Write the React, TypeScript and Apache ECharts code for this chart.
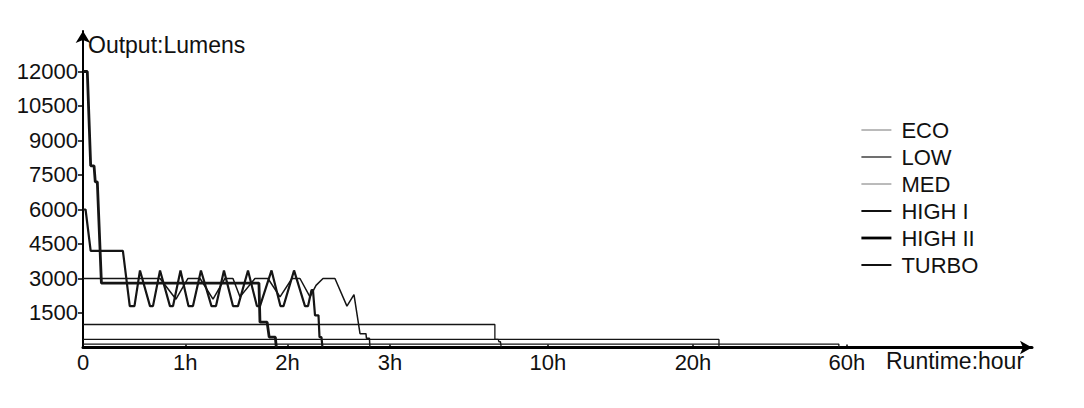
import React, { useEffect, useRef } from "react";
import * as echarts from "echarts";

// Hour breakpoints on the broken runtime axis and their positions on the drawn axis
const HOUR_BREAKS = [0, 1, 2, 3, 10, 20, 60];
const UNIT_BREAKS = [0, 1, 2, 3, 4.545, 5.963, 7.468];
const X_TICK_LABELS = ["0", "1h", "2h", "3h", "10h", "20h", "60h"];
const Y_TICKS = [1500, 3000, 4500, 6000, 7500, 9000, 10500, 12000];

const MODES = ["ECO", "LOW", "MED", "HIGH I", "HIGH II", "TURBO"];

// [hours, lumens]
const ECO: [number, number][] = [[0, 150], [57.9, 150], [57.9, 0]];
const LOW: [number, number][] = [[0, 350], [26.75, 350], [26.75, 0]];
const MED: [number, number][] = [
  [0, 1000], [7.65, 1000], [7.65, 350], [7.8, 350], [7.83, 250], [7.9, 250], [7.93, 0],
];
const HIGH_I: [number, number][] = [
  [0, 3000], [0.753, 3000], [0.909, 2100], [1.026, 3000], [1.144, 3000], [1.271, 2100],
  [1.388, 3000], [1.466, 3000], [1.535, 2200], [1.681, 3000], [1.808, 3000], [1.926, 2200],
  [2.043, 3000], [2.121, 3000], [2.219, 2200], [2.278, 2700], [2.346, 3000], [2.463, 3000],
  [2.58, 1800], [2.649, 2300], [2.708, 600], [2.766, 600], [2.771, 400], [2.8, 400], [2.805, 0],
];
const HIGH_II: [number, number][] = [
  [0, 6000], [0.025, 6000], [0.075, 4200], [0.39, 4200], [0.457, 1800], [0.503, 1800],
  [0.557, 3350], [0.655, 1800], [0.684, 1800], [0.753, 3350], [0.85, 1800], [0.88, 1800],
  [0.953, 3350], [1.031, 1800], [1.075, 1800], [1.153, 3350], [1.256, 1800], [1.3, 1800],
  [1.378, 3350], [1.466, 1800], [1.515, 1800], [1.613, 3350], [1.7, 1800], [1.73, 1800],
  [1.843, 3350], [1.93, 1800], [1.96, 1800], [2.063, 3350], [2.17, 1800], [2.2, 1800],
  [2.234, 2500], [2.248, 2500], [2.268, 1400], [2.302, 1400], [2.312, 450], [2.331, 450],
  [2.341, 0],
];
const TURBO: [number, number][] = [
  [0, 12000], [0.042, 12000], [0.075, 7900], [0.108, 7900], [0.12, 7200], [0.14, 7200],
  [0.18, 2800], [1.72, 2800], [1.73, 1100], [1.8, 1100], [1.82, 450], [1.88, 450], [1.89, 0],
];

const FONT = "'Liberation Sans', Arial, Helvetica, sans-serif";

function toUnit(h: number): number {
  for (let i = 1; i < HOUR_BREAKS.length; i++) {
    if (h <= HOUR_BREAKS[i]) {
      const h0 = HOUR_BREAKS[i - 1], h1 = HOUR_BREAKS[i];
      const u0 = UNIT_BREAKS[i - 1], u1 = UNIT_BREAKS[i];
      return u0 + ((h - h0) / (h1 - h0)) * (u1 - u0);
    }
  }
  return UNIT_BREAKS[UNIT_BREAKS.length - 1];
}

export default function App() {
  const ref = useRef<HTMLDivElement>(null);
  useEffect(() => {
    if (!ref.current) return;
    const chart = echarts.init(ref.current, undefined, { renderer: "svg" });
    const seriesData = [ECO, LOW, MED, HIGH_I, HIGH_II, TURBO];
    const seriesWidths = [1.3, 1.3, 1.3, 1.5, 2.2, 2.8];
    const legendStyles = [
      { color: "#777", width: 1 },
      { color: "#222", width: 1.3 },
      { color: "#777", width: 1 },
      { color: "#111", width: 2 },
      { color: "#000", width: 2.8 },
      { color: "#111", width: 2 },
    ];
    chart.setOption({
      animation: false,
      backgroundColor: "#fff",
      grid: { left: 83, right: 52, top: 31, bottom: 60.5 },
      legend: {
        orient: "vertical",
        left: 855,
        top: 114,
        itemWidth: 30,
        itemHeight: 14,
        itemGap: 5,
        textStyle: { fontFamily: FONT, fontSize: 22, color: "#111", lineHeight: 20, padding: [0, 0, 0, 5] },
        data: MODES.map((m, i) => ({
          name: m,
          itemStyle: { opacity: 0 },
          lineStyle: { color: legendStyles[i].color, width: legendStyles[i].width, opacity: 1 },
        })),
      },
      xAxis: {
        type: "value",
        min: 0,
        max: 9.277,
        splitLine: { show: false },
        axisLine: {
          show: true,
          symbol: ["none", "arrow"],
          symbolSize: [10, 12],
          lineStyle: { color: "#000", width: 3 },
        },
        axisTick: {
          show: true,
          inside: true,
          length: 3,
          customValues: UNIT_BREAKS,
          lineStyle: { color: "#000", width: 1.5 },
        },
        axisLabel: {
          customValues: UNIT_BREAKS,
          margin: 4,
          fontFamily: FONT,
          fontSize: 22,
          color: "#111",
          formatter: (v: number) => {
            const i = UNIT_BREAKS.findIndex((u) => Math.abs(u - v) < 1e-6);
            return i >= 0 ? X_TICK_LABELS[i] : "";
          },
        },
      },
      yAxis: {
        type: "value",
        min: 0,
        max: 13760,
        splitLine: { show: false },
        axisLine: {
          show: true,
          symbol: ["none", "arrow"],
          symbolSize: [11, 12],
          lineStyle: { color: "#000", width: 2 },
        },
        axisTick: {
          show: true,
          length: 5,
          customValues: Y_TICKS,
          lineStyle: { color: "#000", width: 1.5 },
        },
        axisLabel: {
          customValues: Y_TICKS,
          margin: 5,
          fontFamily: FONT,
          fontSize: 22,
          color: "#111",
          formatter: (v: number) => String(v),
        },
      },
      graphic: [
        {
          type: "text",
          left: 88,
          top: 33,
          style: { text: "Output:Lumens", fontFamily: FONT, fontSize: 23, fill: "#111" },
        },
        {
          type: "text",
          left: 886,
          top: 349,
          style: { text: "Runtime:hour", fontFamily: FONT, fontSize: 23, fill: "#111" },
        },
      ],
      series: MODES.map((m, i) => ({
        name: m,
        type: "line",
        symbol: "none",
        showSymbol: false,
        lineStyle: { color: "#151515", width: seriesWidths[i] },
        itemStyle: { color: "#151515" },
        data: seriesData[i].map(([h, v]) => [toUnit(h), v]),
        z: 2 + i,
      })),
    });
    return () => chart.dispose();
  }, []);
  return (
    <div
      ref={ref}
      style={{ position: "fixed", left: 0, top: 0, width: 1084, height: 408, background: "#fff" }}
    />
  );
}
